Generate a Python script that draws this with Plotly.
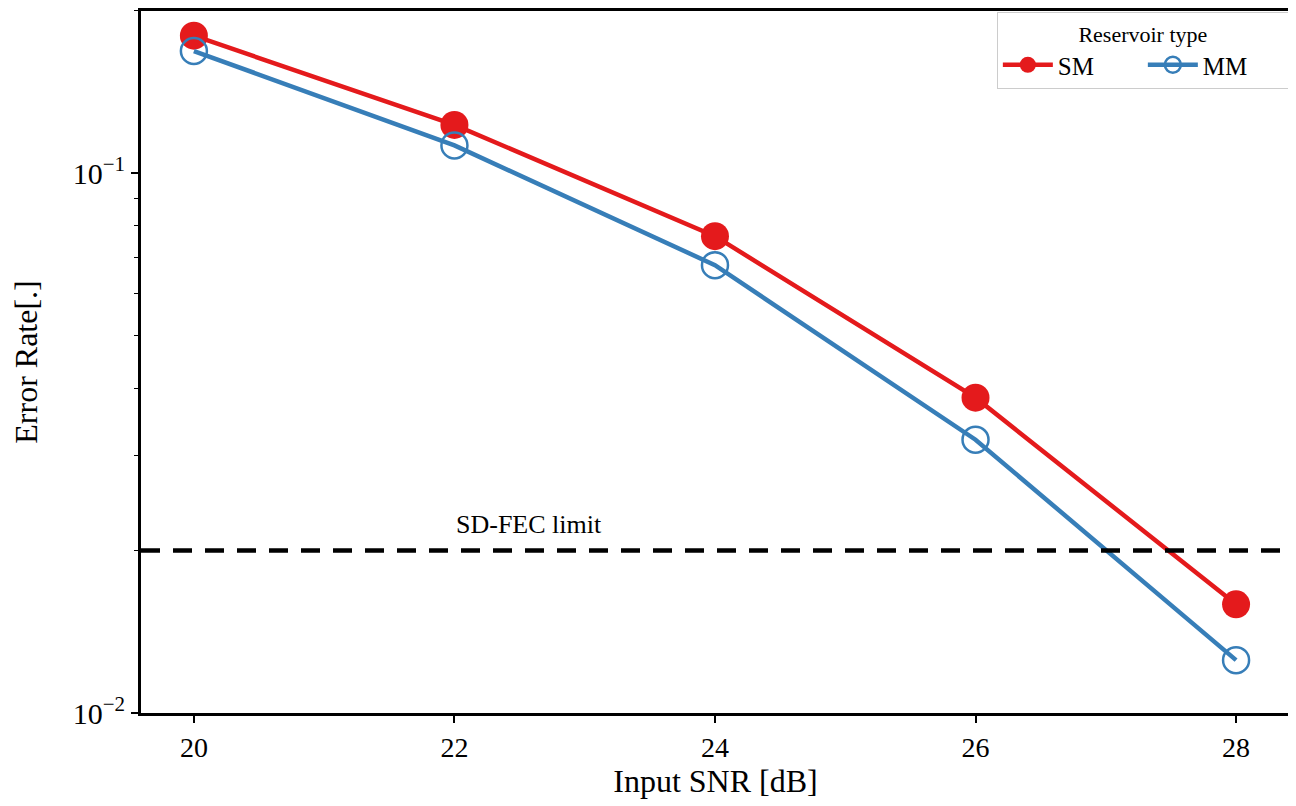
import plotly.graph_objects as go

# data
snr_db = [20, 22, 24, 26, 28]
err_sm = [0.180, 0.123, 0.0765, 0.0384, 0.0159]
err_mm = [0.1686, 0.1127, 0.0676, 0.0321, 0.01253]
fec_limit = 2e-2

y_tickvals = [1e-2, 1e-1]
y_ticktext = ["10<sup>\u22122</sup>", "10<sup>\u22121</sup>"]
y_minor = [0.02, 0.03, 0.04, 0.05, 0.06, 0.07, 0.08, 0.09, 0.2]

RED = "#e41a1c"
BLUE = "#377eb8"
FONT = "Liberation Serif"

fig = go.Figure()

fig.add_trace(go.Scatter(
    x=snr_db, y=err_sm, name="SM", mode="lines+markers",
    line=dict(color=RED, width=4.5),
    marker=dict(symbol="circle", size=28, color=RED),
))
fig.add_trace(go.Scatter(
    x=snr_db, y=err_mm, name="MM", mode="lines+markers",
    line=dict(color=BLUE, width=4.5),
    marker=dict(symbol="circle-open", size=26, color=BLUE, line=dict(width=2.5, color=BLUE)),
))

# SD-FEC limit line
fig.add_shape(type="line", xref="paper", yref="y", x0=0, x1=1, y0=fec_limit, y1=fec_limit,
              line=dict(color="black", width=4.5, dash="19px,13px"))
# annotation y on a log axis is given in log10 units
fig.add_annotation(x=22, y=-1.699, xref="x", yref="y", text="SD-FEC limit",
                   showarrow=False, xanchor="left", yanchor="bottom", yshift=10,
                   font=dict(family=FONT, size=26, color="black"))

fig.update_layout(
    width=1288, height=798,
    margin=dict(l=133, r=6, t=0, b=93),
    plot_bgcolor="white", paper_bgcolor="white",
    font=dict(family=FONT, size=27, color="black"),
    legend=dict(
        title=dict(text="Reservoir type", side="top center", font=dict(size=22)),
        orientation="h", x=0.999, y=0.998, xanchor="right", yanchor="top",
        bgcolor="rgba(255,255,255,0.9)", bordercolor="#cccccc", borderwidth=1,
        font=dict(size=25), itemwidth=50, entrywidth=80,
    ),
    xaxis=dict(
        range=[19.594, 28.414], tickvals=snr_db, showgrid=False, zeroline=False,
        showline=True, linecolor="black", linewidth=3, mirror=True,
        ticks="outside", ticklen=7, tickwidth=1.5, tickcolor="black",
        title=dict(text="Input SNR [dB]", standoff=8), tickfont=dict(size=28),
    ),
    yaxis=dict(
        type="log", range=[-2, -0.699], tickvals=y_tickvals, ticktext=y_ticktext,
        showgrid=False, zeroline=False,
        showline=True, linecolor="black", linewidth=3, mirror=True,
        ticks="outside", ticklen=7, tickwidth=1.5, tickcolor="black",
        minor=dict(tickvals=y_minor, ticks="outside", ticklen=4, tickwidth=1.2,
                   tickcolor="black", showgrid=False),
        title=dict(text="Error Rate[.]", standoff=30), tickfont=dict(size=30),
    ),
)

fig.write_html("out.html")
